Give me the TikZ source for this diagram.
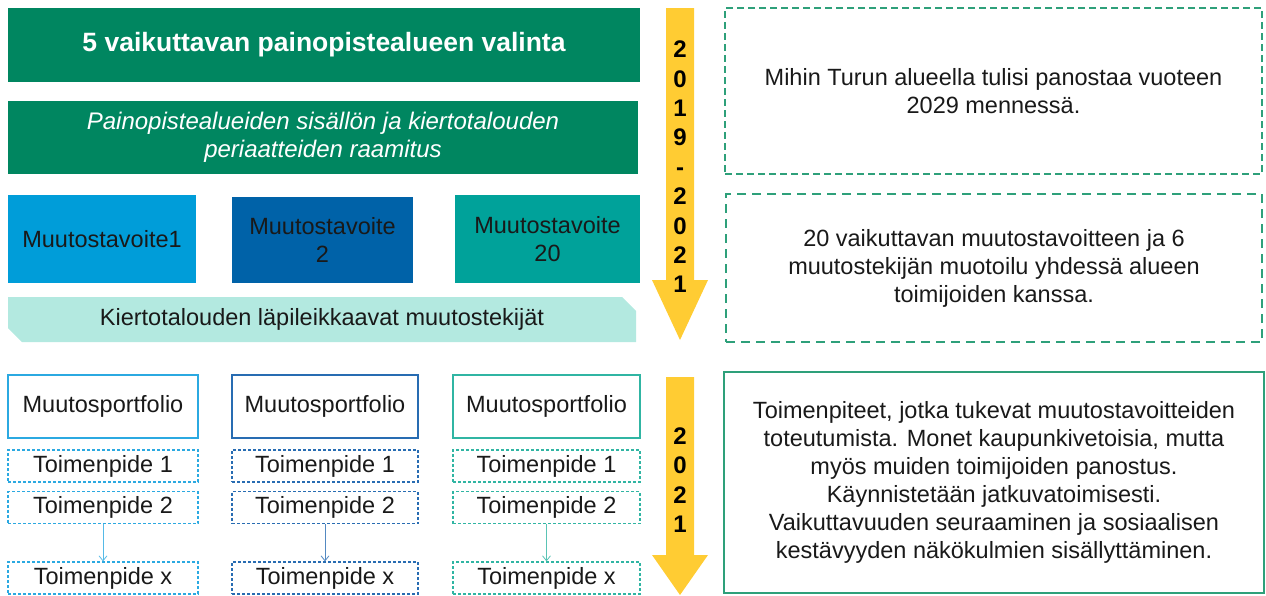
\documentclass[tikz,border=0pt]{standalone}
\usepackage{fontspec}
\setmainfont{Liberation Sans}
\usetikzlibrary{shapes.misc,arrows.meta}

\definecolor{darkgreen}{RGB}{0,134,96}
\definecolor{goalA}{RGB}{0,157,217}
\definecolor{goalB}{RGB}{0,98,168}
\definecolor{goalC}{RGB}{0,162,154}
\definecolor{mint}{RGB}{179,233,224}
\definecolor{yearyellow}{RGB}{255,204,51}
\definecolor{framegreen}{RGB}{46,160,122}
\definecolor{colA}{RGB}{43,169,225}
\definecolor{colB}{RGB}{40,108,178}
\definecolor{colC}{RGB}{48,181,163}
\definecolor{txt}{RGB}{25,25,25}

\begin{document}
\begin{tikzpicture}[x=1pt, y=-1pt,
	every node/.style={font=\fontsize{23.5}{28}\selectfont, text=txt, align=center, inner sep=0pt},
	band/.style={fill=darkgreen, text=white, minimum width=632, minimum height=74},
	goal/.style={minimum height=88},
	note/.style={draw=framegreen, minimum width=537},
	portfolio/.style={draw, fill=white, line width=1.8pt, minimum height=63},
	action/.style={draw, dash pattern=on 3pt off 2pt, line width=1.2pt, minimum height=32},
	years/.style={font=\fontsize{24}{29.4}\selectfont\bfseries, text=black}]
	\useasboundingbox (0,0) rectangle (1266,595);

	% top: painopistealueet
	\node[band, font=\fontsize{26.5}{30}\selectfont\bfseries] (valinta) at (324,45)
		{5 vaikuttavan painopistealueen  valinta};
	\node[band, minimum width=630, minimum height=73, font=\fontsize{24}{28}\selectfont\itshape] (raamitus) at (323,137)
		{Painopistealueiden sisällön ja kiertotalouden\\periaatteiden raamitus};

	% muutostavoitteet
	\node[goal, fill=goalA, minimum width=188] (mt1) at (102,239) {Muutostavoite1};
	\node[goal, fill=goalB, minimum width=181, minimum height=86] (mt2) at (322.5,240) {Muutostavoite\\2};
	\node[goal, fill=goalC, minimum width=185] (mt20) at (547.5,239) {Muutostavoite\\20};
	\node[chamfered rectangle, chamfered rectangle corners={north east,south west},
		chamfered rectangle xsep=7pt, chamfered rectangle ysep=7pt,
		fill=mint, minimum width=628, minimum height=45] (tekijat) at (322,319.5)
		{Kiertotalouden läpileikkaavat muutostekijät};

	% aikajana
	\fill[yearyellow] (666,8) -- (694,8) -- (694,280) -- (708,280) -- (680,340)
		-- (652,280) -- (666,280) -- cycle;
	\node[years] (vuodet1) at (680,167) {2\\0\\1\\9\\-\\2\\0\\2\\1};
	\fill[yearyellow] (666,377) -- (694,377) -- (694,555) -- (708,555) -- (680,595)
		-- (652,555) -- (666,555) -- cycle;
	\node[years] (vuodet2) at (680,480) {2\\0\\2\\1};

	% selitykset
	\node[note, dash pattern=on 7pt off 4pt, line width=1.3pt, minimum height=166] (selitys1) at (993.5,91)
		{Mihin Turun alueella tulisi panostaa vuoteen\\2029 mennessä.};
	\node[note, dash pattern=on 9pt off 6pt, line width=2pt, minimum width=536, minimum height=148] (selitys2) at (994,268)
		{20 vaikuttavan muutostavoitteen ja 6\\muutostekijän muotoilu yhdessä alueen\\toimijoiden kanssa.};
	\node[note, line width=2.2pt, minimum width=540, minimum height=221] (selitys3) at (994,482.5)
		{Toimenpiteet, jotka tukevat muutostavoitteiden\\toteutumista. Monet kaupunkivetoisia, mutta\\myös muiden toimijoiden panostus.\\Käynnistetään jatkuvatoimisesti.\\Vaikuttavuuden seuraaminen ja sosiaalisen\\kestävyyden näkökulmien sisällyttäminen.};

	% muutosportfoliot
	\foreach \i/\cx/\w/\col in {1/103/190/colA, 2/325/186/colB, 3/546.5/187/colC} {
		\node[portfolio, draw=\col, minimum width=\w] (pf\i) at (\cx,406.5) {Muutosportfolio};
		\node[action, draw=\col, minimum width=\w] (ta\i) at (\cx,466) {Toimenpide 1};
		\node[action, draw=\col, minimum width=\w] (tb\i) at (\cx,507.5) {Toimenpide 2};
		\node[action, draw=\col, minimum width=\w] (tx\i) at (\cx,578) {Toimenpide x};
		\draw[\col!80, line width=0.8pt, -{Straight Barb[length=5pt,width=8pt]}] (tb\i) -- (tx\i);
	}
\end{tikzpicture}
\end{document}
